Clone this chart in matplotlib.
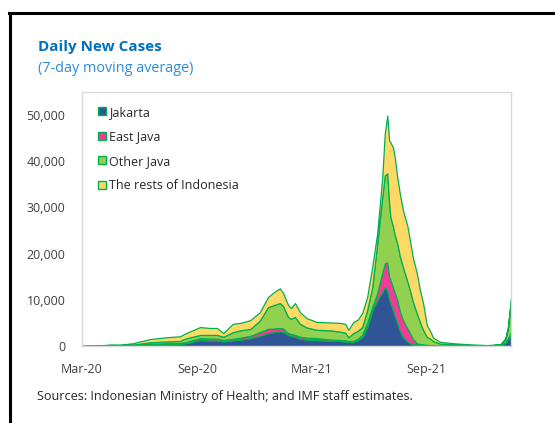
#####################################################################################
# IMPORTS
#####################################################################################

import pandas as pd
import matplotlib.pyplot as plt
import matplotlib.dates as mdates
import matplotlib.ticker as mticker
from matplotlib.patches import Patch
from matplotlib.lines import Line2D

plt.rcParams['font.family'] = ['Open Sans', 'DejaVu Sans']

#####################################################################################
# DATA
#####################################################################################

# daily new cases, 7-day moving average (thousands)
dates = [
    '2020-03-01', '2020-03-22', '2020-04-15', '2020-05-01', '2020-05-21', '2020-06-17',
    '2020-07-14', '2020-08-04', '2020-08-12', '2020-09-05', '2020-09-21', '2020-10-02',
    '2020-10-12', '2020-10-27', '2020-11-08', '2020-11-24', '2020-12-09', '2020-12-22',
    '2021-01-01', '2021-01-10', '2021-01-15', '2021-01-23', '2021-01-28', '2021-02-03',
    '2021-02-11', '2021-02-22', '2021-03-10', '2021-03-31', '2021-04-16', '2021-04-24',
    '2021-04-29', '2021-05-07', '2021-05-14', '2021-05-21', '2021-05-29', '2021-06-06',
    '2021-06-14', '2021-06-22', '2021-06-26', '2021-06-30', '2021-07-03', '2021-07-05',
    '2021-07-09', '2021-07-12', '2021-07-16', '2021-07-20', '2021-07-25', '2021-08-01',
    '2021-08-05', '2021-08-10', '2021-08-16', '2021-08-21', '2021-08-26', '2021-09-01',
    '2021-09-06', '2021-09-11', '2021-09-22', '2021-10-13', '2021-11-09', '2021-12-06',
    '2021-12-27', '2022-01-04', '2022-01-08', '2022-01-13',
]

jakarta = [
    0, 0.02, 0.1, 0.1, 0.1, 0.15,
    0.3, 0.4, 0.6, 1.3, 1.2, 1.2,
    1.0, 1.2, 1.4, 1.7, 2.2, 2.8,
    3.0, 3.2, 3.1, 2.4, 2.2, 2.0,
    1.6, 1.4, 1.3, 1.1, 1.1, 1.0,
    0.9, 0.9, 1.3, 1.9, 4.1, 7.8,
    9.9, 11.7, 12.7, 12.1, 10.0, 9.3,
    7.8, 6.5, 5.0, 3.3, 1.9, 1.0,
    0.6, 0.4, 0.3, 0.25, 0.2, 0.15,
    0.12, 0.1, 0.08, 0.06, 0.05, 0.04,
    0.15, 0.7, 1.5, 2.8,
]

east_java = [
    0, 0.01, 0.03, 0.05, 0.1, 0.3,
    0.3, 0.25, 0.2, 0.4, 0.4, 0.4,
    0.3, 0.35, 0.4, 0.5, 0.8, 0.9,
    0.8, 0.7, 0.7, 0.4, 0.4, 0.4,
    0.4, 0.4, 0.4, 0.3, 0.2, 0.2,
    0.2, 0.2, 0.3, 0.5, 0.9, 0.6,
    1.5, 4.1, 5.2, 6.0, 5.0, 5.0,
    4.9, 5.0, 4.9, 4.2, 3.7, 2.8,
    2.2, 1.1, 0.3, 0.2, 0.15, 0.1,
    0.08, 0.06, 0.04, 0.03, 0.02, 0.01,
    0.01, 0.1, 0.15, 0.2,
]

other_java = [
    0, 0.02, 0.08, 0.05, 0.1, 0.35,
    0.4, 0.45, 0.8, 0.7, 0.8, 0.8,
    0.7, 1.45, 1.6, 1.5, 2.5, 4.7,
    5.1, 5.4, 4.9, 3.5, 3.3, 3.9,
    2.8, 2.2, 1.8, 2.0, 1.8, 1.7,
    0.8, 1.7, 1.7, 1.7, 2.8, 4.3,
    10.8, 16.4, 19.0, 19.3, 16.0, 13.6,
    13.3, 12.5, 12.3, 12.0, 11.5, 10.2,
    9.3, 8.0, 6.5, 4.75, 3.15, 1.75,
    1.4, 0.9, 0.4, 0.25, 0.13, 0.07,
    0.14, 0.6, 2.1, 6.8,
]

rest_of_indonesia = [
    0, 0.02, 0.1, 0.1, 0.3, 0.7,
    0.9, 1.0, 1.1, 1.7, 1.5, 1.5,
    0.8, 1.8, 1.6, 1.9, 1.8, 2.2,
    2.8, 3.2, 2.8, 2.6, 2.3, 3.0,
    2.5, 2.0, 1.7, 1.7, 1.9, 1.9,
    1.6, 2.4, 2.4, 3.0, 2.8, 4.4,
    2.2, 4.3, 9.1, 12.5, 13.5, 16.2,
    17.0, 16.8, 14.3, 13.5, 12.3, 12.0,
    10.8, 9.5, 8.7, 6.9, 5.8, 2.5,
    1.7, 0.74, 0.38, 0.26, 0.15, 0.08,
    0.1, 0.3, 0.35, 0.6,
]

labels = ['Jakarta', 'East Java', 'Other Java', 'The rests of Indonesia']
colors = ['#2f5597', '#f7399a', '#92d050', '#ffd966']
edge = '#00b050'

#####################################################################################
# PLOT
#####################################################################################

x = pd.to_datetime(dates)
series = [[v * 1000 for v in s] for s in (jakarta, east_java, other_java, rest_of_indonesia)]

fig = plt.figure(figsize=(5.55, 4.23), dpi=100)
ax = fig.add_axes([82 / 555, 1 - 346 / 423, (511 - 82) / 555, (346 - 92) / 423])

ax.stackplot(x, *series, colors=colors, edgecolor=edge, linewidth=0.9)

ax.set_xlim(pd.Timestamp('2020-03-01'), pd.Timestamp('2022-01-13'))
ax.set_ylim(0, 55000)

ax.set_xticks(pd.to_datetime(['2020-03-01', '2020-09-01', '2021-03-01', '2021-09-01']))
ax.xaxis.set_major_formatter(mdates.DateFormatter('%b-%y'))
ax.set_yticks(range(0, 50001, 10000))
ax.yaxis.set_major_formatter(mticker.StrMethodFormatter('{x:,.0f}'))
ax.tick_params(length=0, labelsize=9, labelcolor='#404040')
ax.tick_params(axis='x', pad=12)
ax.tick_params(axis='y', pad=12)

for s in ax.spines.values():
	s.set_color('#d9d9d9')
	s.set_linewidth(1)

# legend
handles = [Patch(facecolor=c, edgecolor=edge, linewidth=1) for c in colors]
ax.legend(handles, labels, loc='upper left', frameon=False, fontsize=9,
	handlelength=0.6, handleheight=0.6, handletextpad=0.25, labelspacing=0.92,
	borderaxespad=0.5, bbox_to_anchor=(0.012, 0.99), labelcolor='#262626')

# titles and source
fig.text(38 / 555, 1 - 47 / 423, 'Daily New Cases', fontsize=11, fontweight='bold',
	color='#0070c0', va='center')
fig.text(38 / 555, 1 - 69 / 423, '(7-day moving average)', fontsize=10.4,
	color='#2e8bd6', va='center')
fig.text(37 / 555, 1 - 396 / 423, 'Sources: Indonesian Ministry of Health; and IMF staff estimates.',
	fontsize=9.1, color='#262626', va='center')

# black frame on top and left
fig.add_artist(Line2D([10 / 555, 10 / 555], [0, 1 - 13 / 423], color='black', linewidth=2.2))
fig.add_artist(Line2D([9 / 555, 1], [1 - 13 / 423, 1 - 13 / 423], color='black', linewidth=2.2))

fig.savefig('out.png', dpi=100)
